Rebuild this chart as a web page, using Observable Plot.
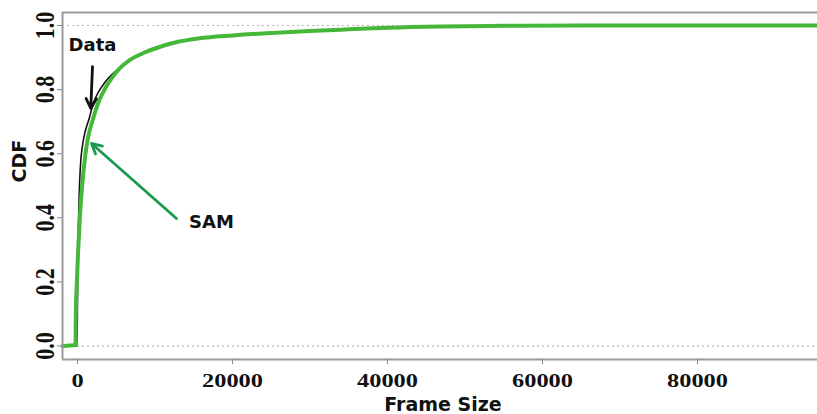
<!DOCTYPE html>
<html>
<head>
<meta charset="utf-8">
<script src="https://cdn.jsdelivr.net/npm/d3@7"></script>
<script src="https://cdn.jsdelivr.net/npm/@observablehq/plot@0.6"></script>
<style>
  html, body { margin: 0; padding: 0; background: #fff; }
  #chart { width: 817px; height: 414px; }
</style>
</head>
<body>
<div id="chart"></div>
<script>
// ---- data ----
const xDomain = [-1935, 95484];
const yDomain = [-0.042, 1.0406];
const xTicks = [0, 20000, 40000, 60000, 80000];
const yTicks = [0, 0.2, 0.4, 0.6, 0.8, 1.0];

const samSize = [-1935, -258, -220, -90, 90, 300, 600, 1032, 1400, 1935, 2800, 3600, 4516, 5500, 6671, 8774, 10968, 13123, 15703, 20000, 25000, 30000, 35000, 40000, 47000, 55000, 65000, 95484];
const samCdf  = [0, 0.003, 0.09, 0.195, 0.30, 0.40, 0.50, 0.60, 0.655, 0.703, 0.766, 0.805, 0.839, 0.868, 0.891, 0.917, 0.936, 0.950, 0.960, 0.969, 0.977, 0.983, 0.988, 0.993, 0.997, 0.999, 1.0, 1.0];

const dataSize = [-1935, -60, 0, 65, 194, 426, 555, 1000, 1510, 1845, 2361, 3652, 5548, 7000, 8774, 10968, 13123, 15703, 20000, 25000, 30000, 35000, 40000, 47000, 55000, 65000, 95484];
const dataCdf  = [0, 0, 0.14, 0.30, 0.45, 0.579, 0.61, 0.67, 0.71, 0.741, 0.776, 0.826, 0.870, 0.897, 0.917, 0.936, 0.950, 0.960, 0.969, 0.977, 0.983, 0.988, 0.993, 0.997, 0.999, 1.0, 1.0];

const labels = ["Data", "SAM"];
const labelSize = [1935, 17290];
const labelCdf = [0.922, 0.367];

const arrowFrom = [[1935, 0.872], [12774, 0.398]];
const arrowTo   = [[1716, 0.741], [1806, 0.632]];
const arrowColor = ["#111111", "#1a9a50"];

// ---- tables ----
const sam = samSize.map((x, i) => ({x, y: samCdf[i]}));
const dat = dataSize.map((x, i) => ({x, y: dataCdf[i]}));
const notes = labels.map((t, i) => ({t, x: labelSize[i], y: labelCdf[i]}));
const arrows = arrowFrom.map((f, i) => ({x1: f[0], y1: f[1], x2: arrowTo[i][0], y2: arrowTo[i][1], c: arrowColor[i]}));

const serif = "'Liberation Serif', 'Times New Roman', serif";
const sans = "'DejaVu Sans', Verdana, sans-serif";

const chart = Plot.plot({
  width: 817,
  height: 414,
  marginLeft: 62,
  marginRight: 0,
  marginTop: 12,
  marginBottom: 55,
  style: {background: "#fff", overflow: "visible"},
  x: {domain: xDomain},
  y: {domain: yDomain},
  marks: [
    Plot.ruleY([0, 1], {stroke: "#b8b8b8", strokeWidth: 1.2, strokeDasharray: "2,3"}),
    Plot.line(dat, {x: "x", y: "y", stroke: "#111", strokeWidth: 1.6, curve: "monotone-x"}),
    Plot.line(sam, {x: "x", y: "y", stroke: "#45b83a", strokeWidth: 4, curve: "monotone-x"}),
    Plot.ruleX([xDomain[0]], {stroke: "#9a9a9a", strokeWidth: 2}),
    Plot.ruleY([yDomain[0], yDomain[1]], {stroke: "#9a9a9a", strokeWidth: 2}),
    Plot.axisX({ticks: xTicks, tickSize: 5, tickPadding: 9, stroke: "#888", fill: "#111",
      fontSize: 19.5, fontWeight: "bold", fontFamily: serif, tickFormat: d => String(d), label: null}),
    Plot.axisY({ticks: yTicks, tickSize: 5, tickPadding: 4, tickRotate: -90, stroke: "#888", fill: "#111",
      fontSize: 22, fontWeight: "bold", fontFamily: serif, tickFormat: d => d.toFixed(1), label: null}),
    Plot.arrow(arrows, {x1: "x1", y1: "y1", x2: "x2", y2: "y2", stroke: "c", strokeWidth: 2.8, headLength: 6, headAngle: 55}),
    Plot.text(notes, {x: "x", y: "y", text: "t", lineAnchor: "bottom", fontSize: 18, fontWeight: "bold", fontFamily: sans, fill: "#111"}),
    Plot.text(["Frame Size"], {frameAnchor: "bottom", lineAnchor: "bottom", dy: 51, dx: 3, fontSize: 19, fontWeight: "bold", fontFamily: sans, fill: "#111"}),
    Plot.text(["CDF"], {frameAnchor: "left", rotate: -90, lineAnchor: "bottom", dx: -37, dy: -3.5, fontSize: 19, fontWeight: "bold", fontFamily: sans, fill: "#111"})
  ]
});
document.getElementById("chart").appendChild(chart);

// widen serif tick labels to match the stretched look of the original
d3.select(chart).selectAll('g[aria-label="x-axis tick label"] text')
  .attr("transform", function() { return (this.getAttribute("transform") || "") + " scale(1.25,1)"; });
d3.select(chart).selectAll('g[aria-label="y-axis tick label"] text')
  .attr("transform", function() {
    const t = this.getAttribute("transform") || "";
    return t.includes("rotate") ? t.replace("rotate", "scale(1.2,1) rotate") : t;
  });
</script>
</body>
</html>
